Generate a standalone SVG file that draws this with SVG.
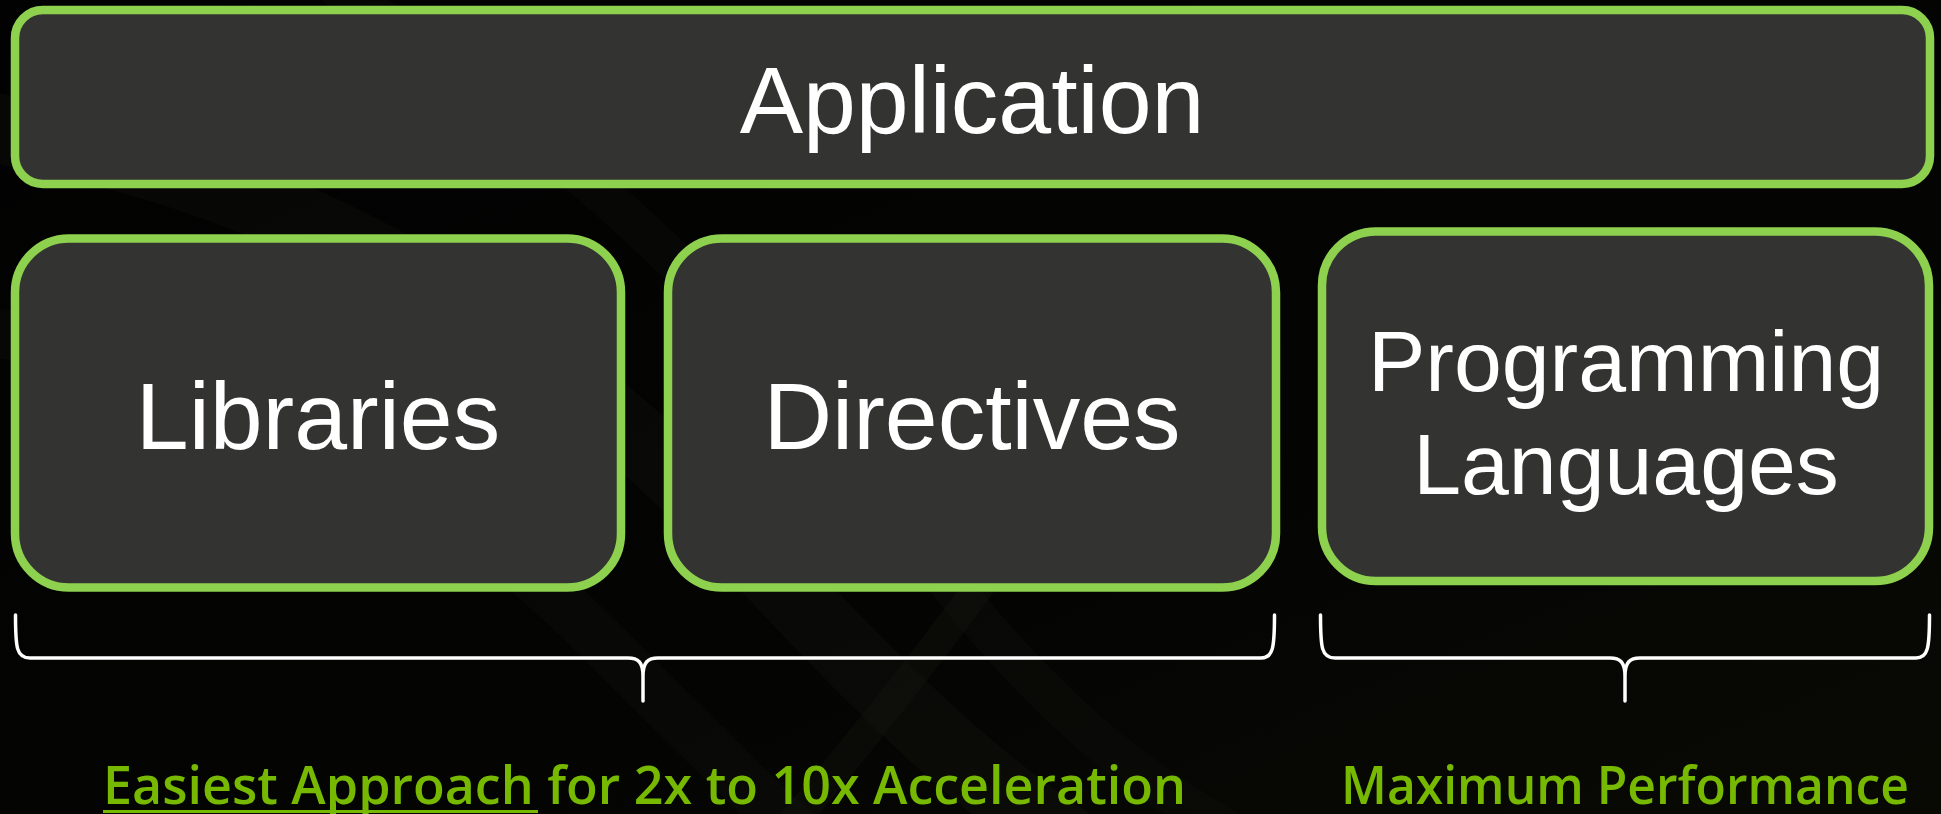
<svg xmlns="http://www.w3.org/2000/svg" width="1941" height="814" viewBox="0 0 1941 814">
  <defs>
    <style>
      .box { fill: #363634; fill-opacity: 0.94; stroke: #8ed14f; stroke-width: 8.5; }
      .label { font-family: "Liberation Sans", Arial, sans-serif; fill: #ffffff; text-anchor: middle; }
      .note { font-family: "Open Sans", "DejaVu Sans", sans-serif; font-weight: 600; font-size: 52px; fill: #76b900; }
      .brace { fill: none; stroke: #ffffff; stroke-width: 3.5; stroke-linejoin: round; stroke-linecap: round; }
      .swoosh { fill: none; stroke-linecap: round; }
    </style>
    <linearGradient id="bg" x1="0" y1="0" x2="1" y2="1">
      <stop offset="0" stop-color="#020202"/>
      <stop offset="0.6" stop-color="#040403"/>
      <stop offset="1" stop-color="#090904"/>
    </linearGradient>
  </defs>

  <!-- backdrop with faint sweeping bands -->
  <rect x="0" y="0" width="1941" height="814" fill="url(#bg)"/>
  <g id="backdrop">
    <path class="swoosh" d="M -60 120 C 250 160, 520 300, 760 560 S 1050 820, 1150 900" stroke="#2a2a22" stroke-width="70" stroke-opacity="0.14"/>
    <path class="swoosh" d="M -80 330 C 200 330, 430 470, 600 640 S 820 860, 900 920" stroke="#262620" stroke-width="50" stroke-opacity="0.14"/>
    <path class="swoosh" d="M 300 -40 C 520 120, 700 250, 900 520 S 1200 800, 1300 880" stroke="#1e1e18" stroke-width="40" stroke-opacity="0.18"/>
    <path class="swoosh" d="M 1100 420 C 1000 560, 900 700, 760 860" stroke="#1a1a14" stroke-width="30" stroke-opacity="0.25"/>
  </g>

  <!-- layer boxes -->
  <g id="application">
    <rect class="box" x="15" y="10" width="1915" height="174" rx="28" ry="28"/>
    <text class="label" x="972" y="133" font-size="95">Application</text>
  </g>

  <g id="libraries">
    <rect class="box" x="15" y="238.5" width="606" height="349" rx="54" ry="54"/>
    <text class="label" x="318" y="449" font-size="95">Libraries</text>
  </g>

  <g id="directives">
    <rect class="box" x="668" y="238.5" width="608" height="349" rx="54" ry="54"/>
    <text class="label" x="972" y="449" font-size="95">Directives</text>
  </g>

  <g id="programming-languages">
    <rect class="box" x="1322" y="231.5" width="607" height="349.5" rx="54" ry="54"/>
    <text class="label" x="1626" y="391" font-size="86">Programming</text>
    <text class="label" x="1626" y="494" font-size="86">Languages</text>
  </g>

  <!-- grouping braces -->
  <g id="connectors">
    <path class="brace" d="M 15.5 615 C 15.5 648, 16.5 658, 30 658 L 628 658 C 638 658, 643 662, 643 676 L 643 701 M 643 676 C 643 662, 648 658, 658 658 L 1261 658 C 1273 658, 1274.5 648, 1274.5 615"/>
    <path class="brace" d="M 1320.5 615 C 1320.5 648, 1321.5 658, 1335 658 L 1610 658 C 1620 658, 1625 662, 1625 676 L 1625 701 M 1625 676 C 1625 662, 1630 658, 1640 658 L 1916 658 C 1928 658, 1929.5 648, 1929.5 615"/>
  </g>

  <!-- captions -->
  <g id="caption-easy">
    <text class="note" x="103" y="804" textLength="1083" lengthAdjust="spacingAndGlyphs">Easiest Approach for 2x to 10x Acceleration</text>
    <line x1="103" y1="811.5" x2="538" y2="811.5" stroke="#76b900" stroke-width="3"/>
  </g>
  <g id="caption-max">
    <text class="note" x="1341" y="804" textLength="568" lengthAdjust="spacingAndGlyphs">Maximum Performance</text>
  </g>
</svg>
